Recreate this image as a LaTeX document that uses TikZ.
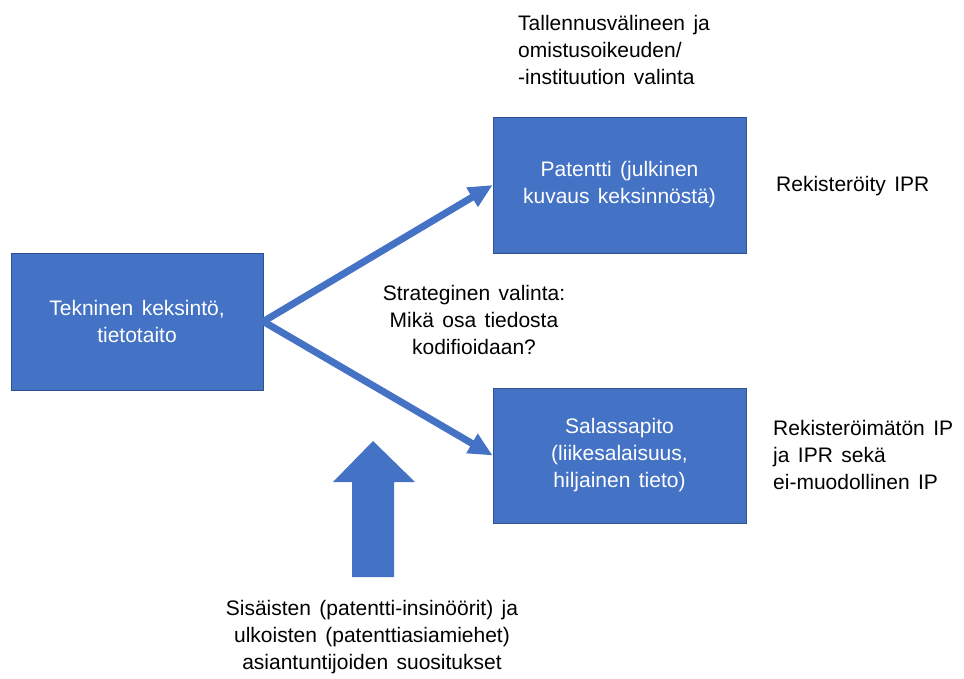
\documentclass[tikz,border=0pt]{standalone}
\usepackage{fontspec}
\setmainfont{Liberation Sans}
\usetikzlibrary{arrows.meta}
\definecolor{sininen}{HTML}{4472C4}
\definecolor{reuna}{HTML}{2F528F}
\newcommand{\kirjain}{\fontsize{21}{27}\selectfont\spaceskip=0.4em plus 0.1em}
\tikzset{
  laatikko/.style={draw=reuna, line width=0.6pt, fill=sininen, text=white,
    minimum width=253pt, minimum height=136pt, align=center, inner sep=0pt,
    font=\kirjain},
  teksti/.style={align=center, inner sep=0pt, font=\kirjain},
  nuoli/.style={draw=sininen, line width=7pt,
    -{Triangle[length=24pt,width=21pt]}}
}
\begin{document}
\begin{tikzpicture}[x=1pt,y=-1pt]
\useasboundingbox (0,0) rectangle (964,678);
\node[laatikko, minimum width=252pt, minimum height=137pt] (tekn) at (137,321.5) {Tekninen keksintö,\\tietotaito};
\node[laatikko] (pat) at (619.5,185) {Patentti (julkinen\\kuvaus keksinnöstä)};
\node[laatikko, minimum height=135pt] (sala) at (619.5,455.5) {Salassapito\\(liikesalaisuus,\\hiljainen tieto)};

\draw[nuoli] (tekn.east) to (pat.west);
\draw[nuoli] (tekn.east) to (sala.west);

% suositukset
\fill[sininen] (352,577) -- (352,482) -- (333,482) -- (373,441) -- (415,482)
  -- (394,482) -- (394,577) -- cycle;

\node[teksti, align=left, anchor=west] (valinta) at (518,49.5) {Tallennusvälineen ja\\omistusoikeuden/\\-instituution valinta};
\node[teksti, anchor=west] (rek) at (776,186) {Rekisteröity IPR};
\node[teksti, align=left, anchor=west] (rekm) at (773,455) {Rekisteröimätön IP\\ja IPR sekä\\ei-muodollinen IP};
\node[teksti] (strat) at (474,320) {Strateginen valinta:\\Mikä osa tiedosta\\kodifioidaan?};
\node[teksti] (suos) at (372,637) {Sisäisten (patentti-insinöörit) ja\\ulkoisten (patenttiasiamiehet)\\asiantuntijoiden suositukset};
\end{tikzpicture}
\end{document}
